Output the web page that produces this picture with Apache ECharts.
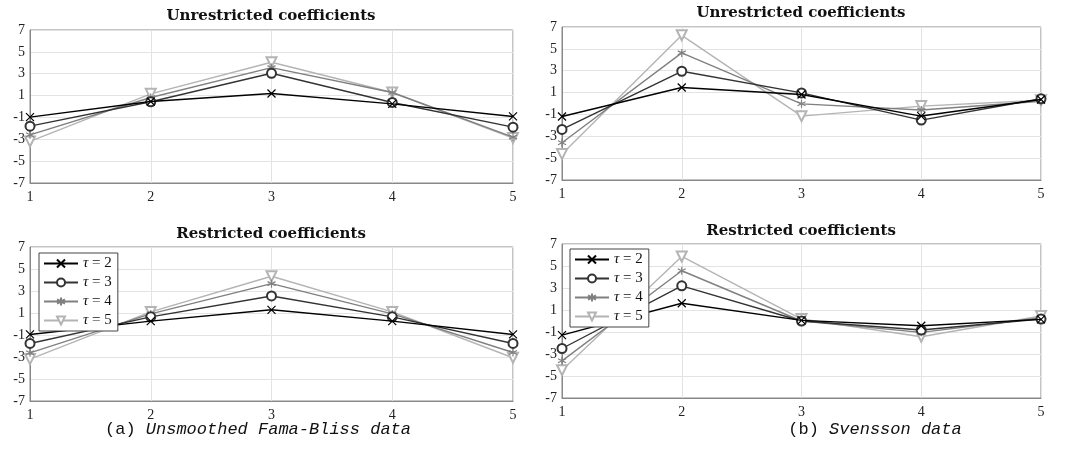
<!DOCTYPE html>
<html>
<head>
<meta charset="utf-8">
<script src="https://cdn.jsdelivr.net/npm/echarts@6/dist/echarts.min.js"></script>
<style>
  html, body { margin: 0; padding: 0; background: #fff; }
  #chart { width: 1071px; height: 459px; }
</style>
</head>
<body>
<div id="chart"></div>
<script>
// maturities on the x axis
const maturities = ['1', '2', '3', '4', '5'];
const seriesNames = ['τ = 2', 'τ = 3', 'τ = 4', 'τ = 5'];

// (a) unsmoothed Fama-Bliss, unrestricted
const famaUnres2 = [-0.97, 0.46, 1.19, 0.24, -0.91];
const famaUnres3 = [-1.8, 0.43, 3.04, 0.37, -1.89];
const famaUnres4 = [-2.59, 0.82, 3.56, 1.28, -2.8];
const famaUnres5 = [-3.2, 1.16, 4.05, 1.28, -2.89];
// (b) Svensson, unrestricted
const svenUnres2 = [-1.19, 1.46, 0.82, -1.15, 0.37];
const svenUnres3 = [-2.37, 2.95, 0.97, -1.52, 0.43];
const svenUnres4 = [-3.59, 4.63, -0.03, -0.6, 0.21];
const svenUnres5 = [-4.63, 6.24, -1.16, -0.24, 0.3];
// (a) restricted
const famaRes2 = [-0.95, 0.26, 1.29, 0.26, -0.95];
const famaRes3 = [-1.77, 0.65, 2.55, 0.65, -1.77];
const famaRes4 = [-2.62, 0.92, 3.67, 0.92, -2.59];
const famaRes5 = [-3.19, 1.1, 4.34, 1.1, -3.07];
// (b) restricted
const svenRes2 = [-1.28, 1.61, 0.06, -0.43, 0.15];
const svenRes3 = [-2.5, 3.2, 0, -0.82, 0.18];
const svenRes4 = [-3.62, 4.57, 0, -1.03, 0.3];
const svenRes5 = [-4.47, 5.87, 0.18, -1.43, 0.46];

const panels = [
  [famaUnres2, famaUnres3, famaUnres4, famaUnres5],
  [svenUnres2, svenUnres3, svenUnres4, svenUnres5],
  [famaRes2, famaRes3, famaRes4, famaRes5],
  [svenRes2, svenRes3, svenRes4, svenRes5]
];

const lineColors = ['#000000', '#333333', '#808080', '#b4b4b4'];
const symbols = [
  'path://M0,0 L10,10 M10,0 L0,10',
  'emptyCircle',
  'path://M5,0 L5,10 M0.67,2.5 L9.33,7.5 M0.67,7.5 L9.33,2.5',
  'emptyTriangle'
];
const symbolSizes = [8, 9, 8, 10];

const serif = '"Liberation Serif", "DejaVu Serif", serif';
const titleFont = 'bold 15px "DejaVu Serif", serif';

const grids = [
  { left: 30, right: 558, top: 30, height: 153 },
  { left: 562, right: 30, top: 27, height: 153 },
  { left: 30, right: 558, top: 247, height: 154 },
  { left: 562, right: 30, top: 244, height: 154 }
];

const chart = echarts.init(document.getElementById('chart'));

const series = [];
panels.forEach((panel, gi) => {
  panel.forEach((vals, si) => {
    series.push({
      name: seriesNames[si],
      type: 'line',
      xAxisIndex: gi,
      yAxisIndex: gi,
      data: vals,
      symbol: symbols[si],
      symbolSize: symbolSizes[si],
      symbolRotate: si === 3 ? 180 : 0,
      showAllSymbol: true,
      z: 10 - si,
      lineStyle: { color: lineColors[si], width: 1.4 },
      itemStyle: {
        color: lineColors[si],
        borderColor: lineColors[si],
        borderWidth: 1.2
      },
      emphasis: { disabled: true }
    });
  });
});

const legendCommon = {
  orient: 'vertical',
  data: seriesNames,
  z: 30,
  itemWidth: 34,
  itemHeight: 10,
  itemGap: 4,
  padding: [3, 6, 3, 4],
  borderColor: '#444',
  borderWidth: 1,
  backgroundColor: '#fff',
  selectedMode: false,
  textStyle: {
    fontFamily: serif, fontSize: 15, color: '#111',
    rich: { i: { fontFamily: serif, fontStyle: 'italic', fontSize: 15, color: '#111' } }
  },
  formatter: function (name) {
    return '{i|τ}' + name.slice(1);
  }
};

function titleText(x, y, text) {
  return {
    type: 'text', x: x, y: y,
    style: { text: text, font: titleFont, fill: '#111', textAlign: 'center', textVerticalAlign: 'middle' }
  };
}

function captionText(x, y, tag, text) {
  return {
    type: 'text', x: x, y: y,
    style: {
      text: '{n|' + tag + ' }{i|' + text + '}',
      textAlign: 'center', textVerticalAlign: 'middle',
      rich: {
        n: { font: '17px "Liberation Mono", monospace', fill: '#111' },
        i: { font: 'italic 17px "Liberation Mono", monospace', fill: '#111' }
      }
    }
  };
}

chart.setOption({
  animation: false,
  grid: grids.map(g => Object.assign({ show: true, borderColor: '#888', borderWidth: 1 }, g)),
  xAxis: grids.map((g, i) => ({
    type: 'category',
    gridIndex: i,
    data: maturities,
    boundaryGap: false,
    axisLine: { onZero: false, lineStyle: { color: '#888' } },
    axisTick: { show: false },
    axisLabel: { fontFamily: serif, fontSize: 14, color: '#222', margin: 7 },
    splitLine: { show: true, lineStyle: { color: '#e3e3e3' } }
  })),
  yAxis: grids.map((g, i) => ({
    type: 'value',
    gridIndex: i,
    min: -7,
    max: 7,
    interval: 2,
    axisLine: { show: true, lineStyle: { color: '#888' } },
    axisTick: { show: false },
    axisLabel: { fontFamily: serif, fontSize: 14, color: '#222', margin: 5 },
    splitLine: { show: true, lineStyle: { color: '#e3e3e3' } }
  })),
  legend: [
    Object.assign({}, legendCommon, { left: 39, top: 253 }),
    Object.assign({}, legendCommon, { left: 570, top: 249 })
  ],
  graphic: [
    titleText(271, 16, 'Unrestricted coefficients'),
    titleText(801, 13, 'Unrestricted coefficients'),
    titleText(271, 234, 'Restricted coefficients'),
    titleText(801, 231, 'Restricted coefficients'),
    captionText(258, 429, '(a)', 'Unsmoothed Fama-Bliss data'),
    captionText(875, 429, '(b)', 'Svensson data')
  ],
  series: series
});
</script>
</body>
</html>
